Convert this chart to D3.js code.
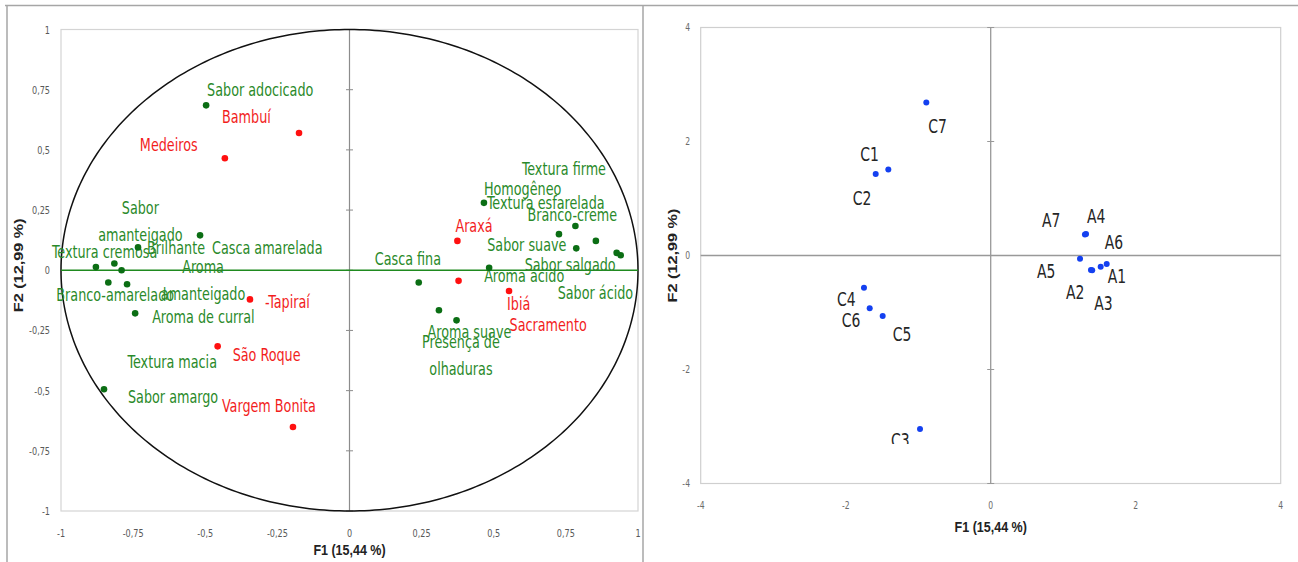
<!DOCTYPE html>
<html>
<head>
<meta charset="utf-8">
<script src="https://cdn.jsdelivr.net/npm/d3@7"></script>
<style>
  html, body { margin: 0; padding: 0; background: #fff; }
  svg { display: block; }
  .lbl { font-family: 'Liberation Sans Narrow', 'Arial Narrow', 'DejaVu Sans Condensed', sans-serif; }
  .tick { font-family: 'Liberation Sans Narrow', 'Arial Narrow', 'DejaVu Sans Condensed', sans-serif; }
  .title { font-family: 'Liberation Sans', Arial, sans-serif; font-weight: bold; fill: #222; }
</style>
</head>
<body>
<svg id="chart" width="1298" height="562"></svg>
<script>
// ---- Correlation circle (F1 x F2): sensory attributes ----
const attrNames = [
  "Sabor adocicado", "Casca amarelada", "Brilhante", "Textura cremosa",
  "Sabor\namanteigado", "Textura macia", "Branco-amarelado", "Aroma\namanteigado",
  "Aroma de curral", "Sabor amargo", "Textura esfarelada", "Homogêneo",
  "Branco-creme", "Textura firme", "Sabor suave", "Sabor salgado",
  "Sabor ácido", "Aroma ácido", "Casca fina", "Presença de\nolhaduras", "Aroma suave"
];
const attrF1 = [-0.497, -0.518, -0.733, -0.879, -0.815, -0.790, -0.836, -0.771, -0.743, -0.851,
                0.466, 0.726, 0.783, 0.854, 0.786, 0.926, 0.940, 0.484, 0.240, 0.310, 0.371];
const attrF2 = [0.685, 0.145, 0.095, 0.013, 0.028, 0.000, -0.051, -0.058, -0.179, -0.494,
                0.280, 0.150, 0.184, 0.122, 0.091, 0.072, 0.062, 0.010, -0.051, -0.166, -0.208];

// Supplementary points: producing regions
const regionNames = ["Bambuí", "Medeiros", "-Tapiraí", "São Roque", "Vargem Bonita", "Araxá", "Ibiá", "Sacramento"];
const regionF1 = [-0.175, -0.432, -0.345, -0.457, -0.196, 0.374, 0.553, 0.378];
const regionF2 = [0.570, 0.465, -0.121, -0.316, -0.651, 0.122, -0.086, -0.044];

const circleTicks = [-1, -0.75, -0.5, -0.25, 0, 0.25, 0.5, 0.75, 1];

// ---- Score plot (F1 x F2): cheese samples ----
const sampleNames = ["C7", "C1", "C2", "C4", "C6", "C5", "C3", "A4", "A7", "A6", "A5", "A1", "A2", "A3"];
const sampleF1 = [-0.888, -1.412, -1.586, -1.748, -1.669, -1.490, -0.975, 1.315, 1.300, 1.517, 1.232, 1.600, 1.383, 1.400];
const sampleF2 = [2.685, 1.510, 1.430, -0.565, -0.926, -1.060, -3.044, 0.377, 0.370, -0.196, -0.056, -0.149, -0.254, -0.260];

const scoreTicks = [-4, -2, 0, 2, 4];

const axisTitleX = "F1 (15,44 %)";
const axisTitleY = "F2 (12,99 %)";

// ---- label placement (pixel nudges from each point: [dx, dy, anchor]) ----
const attrNudge = [
  [1, -16, "start"], [12, 12, "start"], [9, 0, "start"], [-44, -16, "start"],
  [26, -56, "middle"], [6, 91, "start"], [-52, 12, "start"], [76, -18, "middle"],
  [17, 3, "start"], [24, 7, "start"], [3, 0, "start"], [-75, -46, "start"],
  [-48, -11, "start"], [-74, -72, "start"], [-89, -4, "start"], [-92, 12, "start"],
  [-63, 37, "start"], [-5, 8, "start"], [-44, -24, "start"], [22, 31, "middle"], [-29, 11, "start"]
];
const regionNudge = [[-77, -16], [-85, -14], [15, 2], [15, 8], [-71, -21], [-2, -15], [-2, 13], [51, 44]];
const sampleNudge = [[2, 23], [-28, -16], [-23, 24], [-27, 11], [-28, 11], [10, 18], [-29, 11],
                     [1, -18], [-43, -15], [4, -25], [-43, 12], [1, 12], [-25, 22], [2, 32]];

const fmt = v => String(v).replace(".", ",");

// Text with a tall, narrow look: drawn at (x, y), centred vertically, stretched by sy.
function tallText(parent, x, y, lines, o) {
  const g = parent.append("g").attr("transform", `translate(${x},${y}) scale(1,${o.sy})`);
  const t = g.append("text").attr("class", o.cls).attr("font-size", o.size)
    .attr("fill", o.fill).attr("text-anchor", o.anchor || "start");
  lines.forEach((ln, k) => {
    t.append("tspan").attr("x", 0).attr("y", k * (o.lineGap || 0) / o.sy).attr("dy", "0.36em").text(ln);
  });
  return g;
}

const svg = d3.select("#chart");

// Outer panel frames
svg.append("line").attr("x1", 5).attr("x2", 1298).attr("y1", 5.5).attr("y2", 5.5)
  .attr("stroke", "#a6a6a6").attr("stroke-width", 1.5);
svg.append("line").attr("x1", 7).attr("x2", 7).attr("y1", 5).attr("y2", 562)
  .attr("stroke", "#a6a6a6").attr("stroke-width", 1.5);
svg.append("line").attr("x1", 643).attr("x2", 643).attr("y1", 5).attr("y2", 562)
  .attr("stroke", "#a6a6a6").attr("stroke-width", 1.5);

// ================= Left: correlation circle =================
const xL = d3.scaleLinear().domain([-1, 1]).range([61, 638]);
const yL = d3.scaleLinear().domain([-1, 1]).range([511, 29.5]);
const gL = svg.append("g");

gL.append("rect").attr("x", xL(-1)).attr("y", yL(1))
  .attr("width", xL(1) - xL(-1)).attr("height", yL(-1) - yL(1))
  .attr("fill", "none").attr("stroke", "#d4d4d4").attr("stroke-width", 1.2);

// vertical axis through F1 = 0 with crossing ticks
gL.append("line").attr("x1", xL(0)).attr("x2", xL(0)).attr("y1", yL(1)).attr("y2", yL(-1))
  .attr("stroke", "#8c8c8c").attr("stroke-width", 1.2);
gL.selectAll(".ytk").data(circleTicks).join("line")
  .attr("x1", xL(0) - 3.5).attr("x2", xL(0) + 3.5)
  .attr("y1", d => yL(d)).attr("y2", d => yL(d))
  .attr("stroke", "#8c8c8c").attr("stroke-width", 1);

// unit circle
const angles = d3.range(0, 361, 1).map(a => a * Math.PI / 180);
gL.append("path")
  .attr("d", d3.line().x(a => xL(Math.cos(a))).y(a => yL(Math.sin(a)))(angles))
  .attr("fill", "none").attr("stroke", "#111").attr("stroke-width", 1.5);

// horizontal axis through F2 = 0
gL.append("line").attr("x1", xL(-1)).attr("x2", xL(1)).attr("y1", yL(0)).attr("y2", yL(0))
  .attr("stroke", "#1f8a1f").attr("stroke-width", 1.6);

// tick labels
circleTicks.forEach(d => {
  tallText(gL, 50, yL(d), [fmt(d)], { cls: "tick", size: 9, sy: 1.25, fill: "#595959", anchor: "end" });
  tallText(gL, xL(d), 533, [fmt(d)], { cls: "tick", size: 9, sy: 1.25, fill: "#595959", anchor: "middle" });
});

// axis titles
tallText(gL, xL(0), 550, [axisTitleX], { cls: "title", size: 12.5, sy: 1.15, fill: "#222", anchor: "middle" });
gL.append("text").attr("class", "title").attr("font-size", 13)
  .attr("transform", `translate(18,${yL(0) - 5}) rotate(-90) scale(1.25,1)`)
  .attr("dy", "0.35em").attr("text-anchor", "middle").text(axisTitleY);

// attribute points and labels
attrNames.forEach((name, i) => {
  const [dx, dy, anchor] = attrNudge[i];
  tallText(gL, xL(attrF1[i]) + dx, yL(attrF2[i]) + dy, name.split("\n"),
    { cls: "lbl", size: 14.2, sy: 1.25, fill: "#2a8a2a", anchor, lineGap: 27 });
});
gL.selectAll(".ap").data(attrNames).join("circle")
  .attr("cx", (d, i) => xL(attrF1[i])).attr("cy", (d, i) => yL(attrF2[i]))
  .attr("r", 3.3).attr("fill", "#0b6e14");

regionNames.forEach((name, i) => {
  const [dx, dy] = regionNudge[i];
  tallText(gL, xL(regionF1[i]) + dx, yL(regionF2[i]) + dy, [name],
    { cls: "lbl", size: 14.2, sy: 1.25, fill: "#f21d1d" });
});
gL.selectAll(".rp").data(regionNames).join("circle")
  .attr("cx", (d, i) => xL(regionF1[i])).attr("cy", (d, i) => yL(regionF2[i]))
  .attr("r", 3.3).attr("fill", "#ff1010");

// ================= Right: sample scores =================
const xR = d3.scaleLinear().domain([-4, 4]).range([700.7, 1280.7]);
const yR = d3.scaleLinear().domain([-4, 4]).range([483.5, 27.5]);
const gR = svg.append("g");

gR.append("rect").attr("x", xR(-4)).attr("y", yR(4))
  .attr("width", xR(4) - xR(-4)).attr("height", yR(-4) - yR(4))
  .attr("fill", "none").attr("stroke", "#cfcfcf").attr("stroke-width", 1.2);

gR.append("line").attr("x1", xR(-4)).attr("x2", xR(4)).attr("y1", yR(0)).attr("y2", yR(0))
  .attr("stroke", "#999").attr("stroke-width", 1.3);
gR.append("line").attr("x1", xR(0)).attr("x2", xR(0)).attr("y1", yR(4)).attr("y2", yR(-4))
  .attr("stroke", "#999").attr("stroke-width", 1.3);
gR.selectAll(".ytk").data(scoreTicks).join("line")
  .attr("x1", xR(0) - 3.5).attr("x2", xR(0) + 3.5)
  .attr("y1", d => yR(d)).attr("y2", d => yR(d))
  .attr("stroke", "#999").attr("stroke-width", 1);

scoreTicks.forEach(d => {
  tallText(gR, 690, yR(d), [fmt(d)], { cls: "tick", size: 8.5, sy: 1.3, fill: "#6b6b6b", anchor: "end" });
  tallText(gR, xR(d), 505, [fmt(d)], { cls: "tick", size: 8.5, sy: 1.3, fill: "#6b6b6b", anchor: "middle" });
});

tallText(gR, xR(0), 527, [axisTitleX], { cls: "title", size: 12.5, sy: 1.15, fill: "#222", anchor: "middle" });
gR.append("text").attr("class", "title").attr("font-size", 13)
  .attr("transform", `translate(672,${yR(0)}) rotate(-90) scale(1.25,1)`)
  .attr("dy", "0.35em").attr("text-anchor", "middle").text(axisTitleY);

// labels are cut off a little above the plot floor
svg.append("clipPath").attr("id", "scoreClip")
  .append("rect").attr("x", xR(-4)).attr("y", yR(4)).attr("width", xR(4) - xR(-4)).attr("height", 444 - yR(4));

const gLab = gR.append("g").attr("clip-path", "url(#scoreClip)");
sampleNames.forEach((name, i) => {
  const [dx, dy] = sampleNudge[i];
  tallText(gLab, xR(sampleF1[i]) + dx, yR(sampleF2[i]) + dy, [name],
    { cls: "lbl", size: 15.5, sy: 1.3, fill: "#262626" });
});
gR.selectAll(".sp").data(sampleNames).join("circle")
  .attr("cx", (d, i) => xR(sampleF1[i])).attr("cy", (d, i) => yR(sampleF2[i]))
  .attr("r", 3).attr("fill", "#1440f0");
</script>
</body>
</html>
